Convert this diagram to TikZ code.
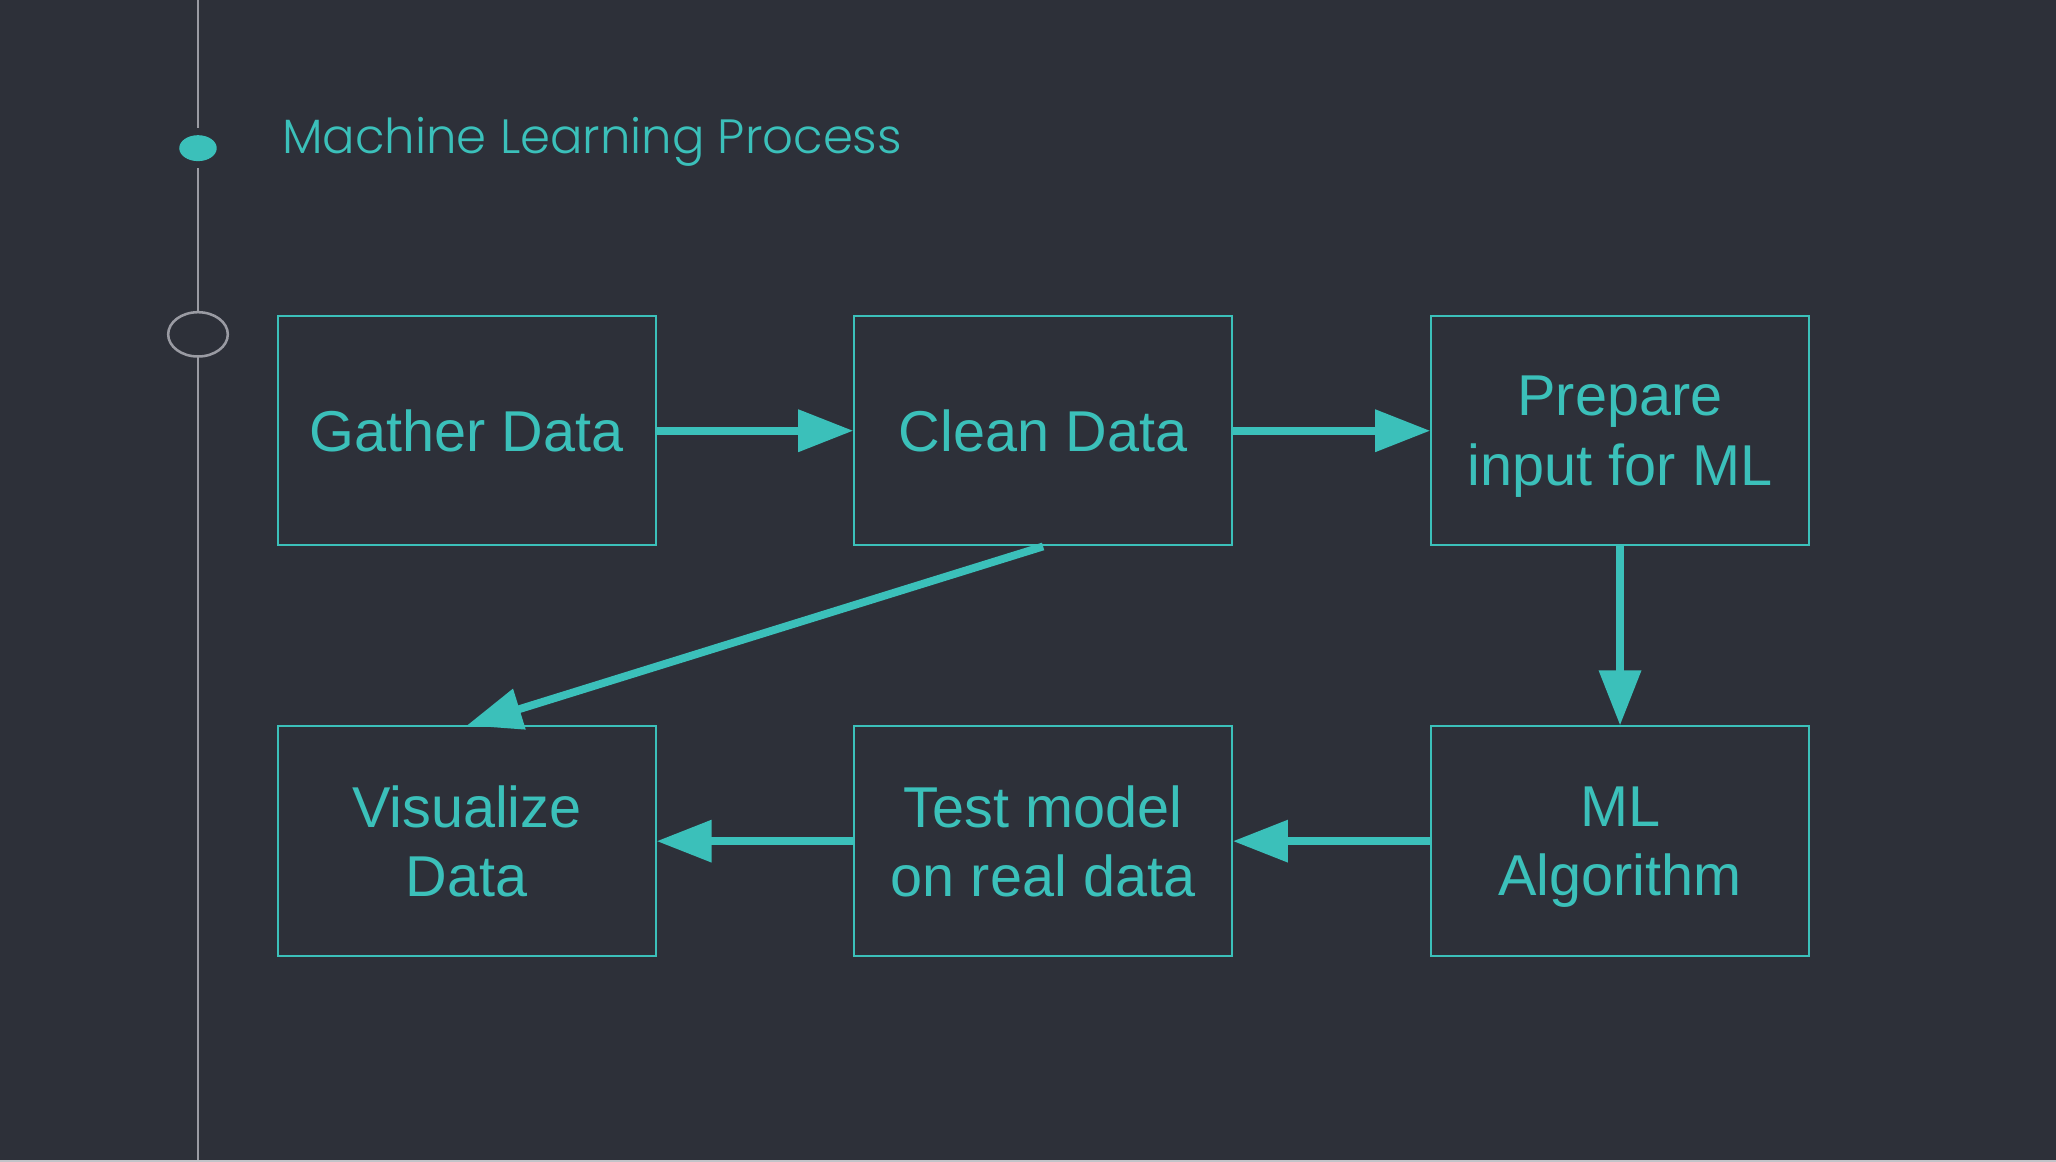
\documentclass[tikz,border=0pt]{standalone}
\usepackage{fontspec}
\setmainfont{Liberation Sans}
\newfontfamily\titlefont{Poppins Light}
\usetikzlibrary{arrows.meta}

\definecolor{fondo}{HTML}{2D3039}
\definecolor{turquesa}{HTML}{3BC0BA}
\definecolor{gris}{HTML}{9A9BA3}

\tikzset{
    caja/.style={draw=turquesa, line width=0.85pt, text=turquesa, minimum width=5.76cm, minimum height=3.5cm, align=center, text depth=0pt, font=\fontsize{25}{30}\selectfont},
    flecha/.style={turquesa, line width=3.4pt, -{Triangle[length=0.84cm, width=0.62cm]}}
}

\begin{document}
\begin{tikzpicture}

        % Fondo
        \useasboundingbox (0,0) rectangle (31.36,17.72);
        \fill[fondo] (0,0) rectangle (31.36,17.72);
        \fill[gris!60!white] (0,0) rectangle (31.36,0.03);

        % Linea de tiempo
        \draw[gris, line width=1.1pt] (3.02,17.72) -- (3.02,15.76);
        \draw[gris, line width=1.1pt] (3.02,15.16) -- (3.02,12.96);
        \draw[gris, line width=1.1pt] (3.02,12.28) -- (3.02,0.03);
        \fill[turquesa] (3.02,15.46) ellipse [x radius=0.286, y radius=0.198];
        \draw[gris, line width=1.1pt] (3.02,12.62) ellipse [x radius=0.455, y radius=0.338];

        % Titulo
        \node[anchor=base west, inner sep=0, text=turquesa, font=\titlefont\fontsize{20.9}{25}\selectfont] (titulo) at (4.3,15.38) {Machine Learning Process};

        % Cajas de arriba
        \node[caja] (gather) at (7.12,11.15) {Gather Data};
        \node[caja] (clean) at (15.91,11.15) {Clean Data};
        \node[caja] (prepare) at (24.71,11.15) {Prepare\\input for ML};

        % Cajas de abajo
        \node[caja] (visual) at (7.12,4.89) {Visualize\\Data};
        \node[caja] (test) at (15.91,4.89) {Test model\\on real data};
        \node[caja] (mlalg) at (24.71,4.89) {ML\\Algorithm};

        % Flechas
        \draw[flecha] (gather.east) -- (clean.west);
        \draw[flecha] (clean.east) -- (prepare.west);
        \draw[flecha] (prepare.south) -- (mlalg.north);
        \draw[flecha] (mlalg.west) -- (test.east);
        \draw[flecha] (test.west) -- (visual.east);
        \draw[flecha] (clean.south) -- (visual.north);

    \end{tikzpicture}
\end{document}
